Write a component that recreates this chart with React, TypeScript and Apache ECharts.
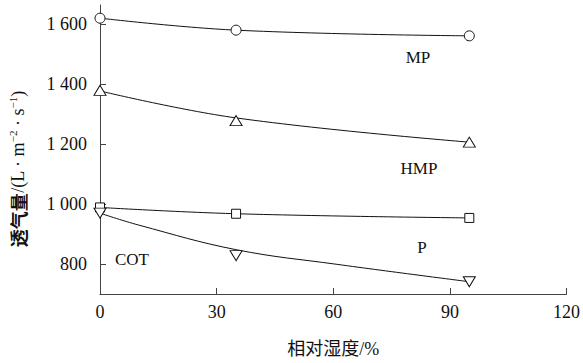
import React, { useEffect, useRef } from "react";
import * as echarts from "echarts";

// Measured points (relative humidity %, air permeability L·m⁻²·s⁻¹)
const humidity = [0, 35, 95];
const mpPoints = [1621, 1581, 1562];
const hmpPoints = [1380, 1279, 1207];
const pPoints = [989, 968, 954];
const cotPoints = [970, 828, 741];

// Fitted curves
const fitX3 = [0, 35, 95];
const mpFit = [1621, 1581, 1562];
const hmpFit = [1378, 1288, 1207];
const pFit = [989, 968, 954];
const cotFitX = [0, 10, 35, 61, 95];
const cotFit = [970, 930, 848, 799, 741];

const yTicks = [800, 1000, 1200, 1400, 1600];
const xTicks = [0, 30, 60, 90, 120];

const seriesLabels = ["MP", "HMP", "P", "COT"];

const SERIF = "'Liberation Serif', 'Times New Roman', 'Noto Sans CJK SC', serif";
const CJK = "'Liberation Serif', 'Noto Sans CJK SC', serif";
const INK = "#111";

const pairs = (xs: number[], ys: number[]) => xs.map((x, i) => [x, ys[i]]);

export default function App() {
  const ref = useRef<HTMLDivElement>(null);
  useEffect(() => {
    if (!ref.current) return;
    const chart = echarts.init(ref.current, undefined, { renderer: "svg" });

    const fitLine = (name: string, xs: number[], ys: number[]) => ({
      name,
      type: "line",
      data: pairs(xs, ys),
      smooth: 0.4,
      showSymbol: false,
      symbol: "none",
      lineStyle: { color: INK, width: 1 },
      z: 2,
    });
    const marks = (name: string, ys: number[], symbol: string, size: any, rotate = 0) => ({
      name,
      type: "scatter",
      data: pairs(humidity, ys),
      symbol,
      symbolSize: size,
      symbolRotate: rotate,
      itemStyle: { color: "#fff", borderColor: INK, borderWidth: 1, opacity: 1 },
      z: 5,
    });

    const labelPos = [
      [418, 57],
      [419, 168],
      [422, 247],
      [132, 259],
    ];

    chart.setOption({
      animation: false,
      grid: { left: 100, right: 10, top: 5, bottom: 61, containLabel: false },
      xAxis: {
        type: "value",
        min: 0,
        max: 120,
        interval: 30,
        name: "相对湿度/%",
        nameLocation: "middle",
        nameGap: 46,
        nameTextStyle: { fontFamily: CJK, fontSize: 18, color: INK },
        axisLine: { show: true, lineStyle: { color: "#444", width: 1 } },
        axisTick: { show: true, inside: true, length: 6, lineStyle: { color: "#444" }, customValues: xTicks },
        axisLabel: { fontFamily: SERIF, fontSize: 18, color: INK, margin: 9, customValues: xTicks },
        splitLine: { show: false },
      },
      yAxis: {
        type: "value",
        min: 700,
        max: 1665,
        axisLine: { show: true, lineStyle: { color: "#444", width: 1 } },
        axisTick: { show: true, inside: true, length: 6, lineStyle: { color: "#444" }, customValues: yTicks },
        axisLabel: {
          fontFamily: SERIF,
          fontSize: 18,
          color: INK,
          margin: 13,
          customValues: yTicks,
          formatter: (v: number) => (v >= 1000 ? `${Math.floor(v / 1000)} ${String(v % 1000).padStart(3, "0")}` : String(v)),
        },
        splitLine: { show: false },
      },
      series: [
        fitLine("MP fit", fitX3, mpFit),
        fitLine("HMP fit", fitX3, hmpFit),
        fitLine("P fit", fitX3, pFit),
        fitLine("COT fit", cotFitX, cotFit),
        marks("MP", mpPoints, "circle", 10),
        marks("HMP", hmpPoints, "triangle", [12, 10]),
        marks("P", pPoints, "rect", 9),
        marks("COT", cotPoints, "triangle", [12, 10], 180),
      ],
      graphic: [
        ...seriesLabels.map((t, i) => ({
          type: "text",
          x: labelPos[i][0],
          y: labelPos[i][1],
          style: {
            text: t,
            fontFamily: SERIF,
            fontSize: 17,
            fill: INK,
            textAlign: "center",
            textVerticalAlign: "middle",
          },
        })),
        {
          type: "text",
          x: 18,
          y: 169,
          rotation: Math.PI / 2,
          style: {
            text: "{c|透气量}{r|/(L · m}{s|−2}{r| · s}{s|−1}{r|)}",
            textAlign: "center",
            textVerticalAlign: "middle",
            fill: INK,
            rich: {
              c: { fontFamily: "'Noto Sans CJK SC', sans-serif", fontWeight: "bold", fontSize: 18, fill: INK, lineHeight: 22, verticalAlign: "middle" },
              r: { fontFamily: SERIF, fontSize: 18, fill: INK, lineHeight: 22, verticalAlign: "middle" },
              s: { fontFamily: SERIF, fontSize: 11, fill: INK, lineHeight: 22, verticalAlign: "top" },
            },
          },
        },
      ],
    });
    return () => chart.dispose();
  }, []);
  return (
    <div
      ref={ref}
      style={{ position: "fixed", left: 0, top: 0, width: 583, height: 363, background: "#fff" }}
    />
  );
}
